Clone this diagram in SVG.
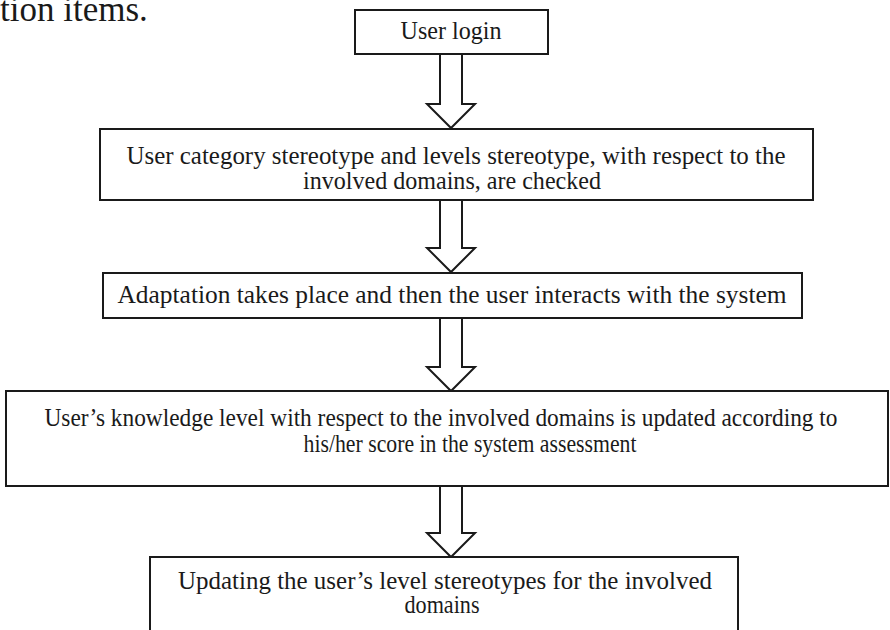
<svg xmlns="http://www.w3.org/2000/svg" width="890" height="630" viewBox="0 0 890 630">
<style>
.box{fill:#fff;stroke:#1a1a1a;stroke-width:2}
.arr{fill:#fff;stroke:#1a1a1a;stroke-width:2;stroke-linejoin:miter}
.t{font-family:'Liberation Serif', serif;fill:#1a1a1a;font-size:25px;text-anchor:middle}
</style>
<rect width="890" height="630" fill="#fff"/>
<text x="0" y="21" style="font-family:'Liberation Serif', serif;font-size:35px;fill:#1a1a1a">tion items.</text>
<g id="connectors">
<polygon class="arr" points="440,54 462,54 462,104 475,104 451,128 427,104 440,104"/>
<polygon class="arr" points="440,200 462,200 462,248 475,248 451,272 427,248 440,248"/>
<polygon class="arr" points="440,318 462,318 462,367 475,367 451,391 427,367 440,367"/>
<polygon class="arr" points="440,486 462,486 462,533 475,533 451,557 427,533 440,533"/>
</g>
<g id="n1">
<rect class="box" x="355" y="10" width="193" height="44"/>
<text class="t" x="451" y="39" textLength="101" lengthAdjust="spacingAndGlyphs">User login</text>
</g>
<g id="n2">
<rect class="box" x="100" y="129" width="713" height="71"/>
<text class="t" x="456" y="164" textLength="659" lengthAdjust="spacingAndGlyphs">User category stereotype and levels stereotype, with respect to the</text>
<text class="t" x="452" y="189" textLength="298" lengthAdjust="spacingAndGlyphs">involved domains, are checked</text>
</g>
<g id="n3">
<rect class="box" x="103" y="273" width="699" height="45"/>
<text class="t" x="452" y="303" textLength="669" lengthAdjust="spacingAndGlyphs">Adaptation takes place and then the user interacts with the system</text>
</g>
<g id="n4">
<rect class="box" x="6" y="391" width="882" height="95"/>
<text class="t" x="441" y="426" textLength="793" lengthAdjust="spacingAndGlyphs">User’s knowledge level with respect to the involved domains is updated according to</text>
<text class="t" x="470" y="452" textLength="333" lengthAdjust="spacingAndGlyphs">his/her score in the system assessment</text>
</g>
<g id="n5">
<rect class="box" x="150" y="557" width="588" height="90"/>
<text class="t" x="445" y="589" textLength="534" lengthAdjust="spacingAndGlyphs">Updating the user’s level stereotypes for the involved</text>
<text class="t" x="442" y="613" textLength="75" lengthAdjust="spacingAndGlyphs">domains</text>
</g>
</svg>
